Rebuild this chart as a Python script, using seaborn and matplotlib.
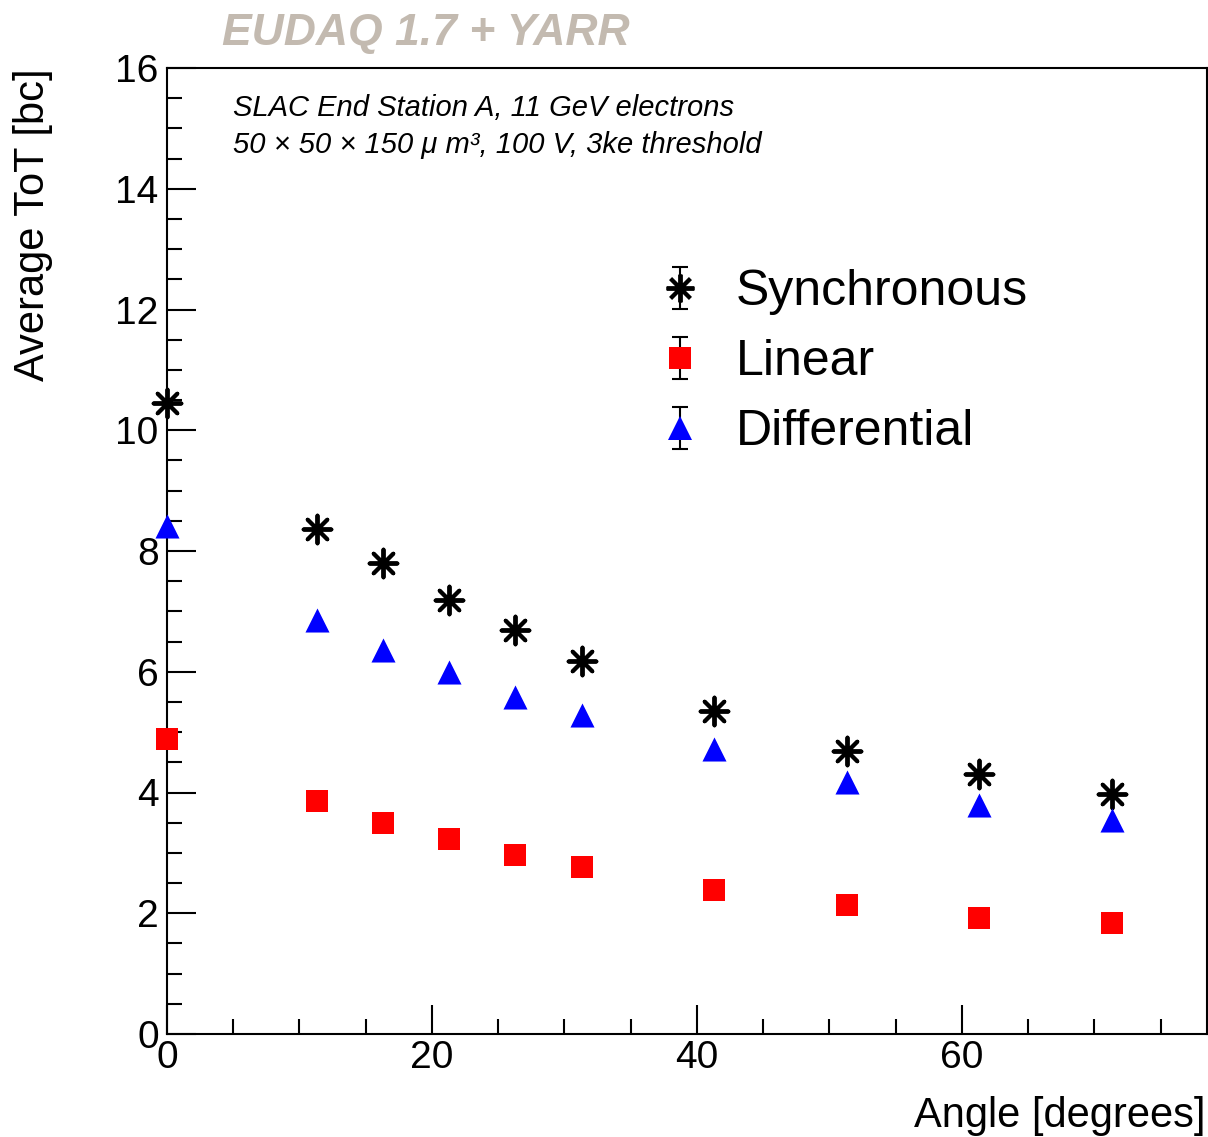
import numpy as np
import pandas as pd
import matplotlib
matplotlib.use("Agg")
import matplotlib.pyplot as plt
import seaborn as sns
from matplotlib.lines import Line2D
from matplotlib.collections import LineCollection
from matplotlib.container import ErrorbarContainer
from matplotlib.legend_handler import HandlerErrorbar
from matplotlib.ticker import MultipleLocator

# values
angle = [0, 11.3, 16.3, 21.3, 26.3, 31.3, 41.3, 51.3, 61.3, 71.3]
tot_sync = [10.45, 8.37, 7.80, 7.19, 6.69, 6.18, 5.35, 4.69, 4.31, 3.98]
tot_linear = [4.89, 3.86, 3.49, 3.23, 2.96, 2.77, 2.39, 2.14, 1.92, 1.84]
tot_diff = [8.42, 6.86, 6.36, 6.00, 5.58, 5.28, 4.72, 4.17, 3.79, 3.54]
series_names = ["Synchronous", "Linear", "Differential"]

df = pd.DataFrame({"angle": angle * 3,
                   "tot": tot_sync + tot_linear + tot_diff,
                   "mode": np.repeat(series_names, len(angle))})

sns.set_theme(style="ticks")
plt.rcParams["font.family"] = ["Liberation Sans", "DejaVu Sans"]
plt.rcParams["text.color"] = "black"
plt.rcParams["axes.labelcolor"] = "black"

W, H = 1208, 1137
fig = plt.figure(figsize=(W / 100, H / 100), dpi=100)
ax = fig.add_axes([167 / W, 103 / H, (1207 - 167) / W, (1034 - 68) / H])

styles = {
    "Synchronous": dict(marker=(8, 2, 0), color="black", s=400, linewidth=2.8),
    "Linear": dict(marker="s", color="red", s=240, linewidth=0),
    "Differential": dict(marker="^", color="blue", s=300, linewidth=0),
}
for name in series_names:
    sns.scatterplot(data=df[df["mode"] == name], x="angle", y="tot", ax=ax,
                    legend=False, clip_on=False, zorder=5, **styles[name])

ax.set_xlim(0, 78.5)
ax.set_ylim(0, 16)
ax.xaxis.set_major_locator(MultipleLocator(20))
ax.xaxis.set_minor_locator(MultipleLocator(5))
ax.yaxis.set_major_locator(MultipleLocator(2))
ax.yaxis.set_minor_locator(MultipleLocator(0.5))
ax.tick_params(which="both", direction="in", width=1.5, colors="black",
               labelsize=28, top=False, right=False)
ax.tick_params(which="major", length=21)
ax.tick_params(which="minor", length=10.5)
ax.tick_params(axis="x", pad=4)
ax.tick_params(axis="y", pad=6)
for sp in ax.spines.values():
    sp.set_visible(True)
    sp.set_linewidth(1.5)
    sp.set_color("black")
ax.set_xlabel("")
ax.set_ylabel("")

fig.text(33 / W, 1 - 68 / H, "Average ToT [bc]", rotation=90, ha="center",
         va="top", fontsize=30)
fig.text(1206 / W, 1 - 1116 / H, "Angle [degrees]", ha="right", va="center",
         fontsize=30)
fig.text(222 / W, 1 - 45 / H, "EUDAQ 1.7 + YARR", ha="left", va="baseline",
         fontsize=32, fontweight="bold", fontstyle="italic", color="#C3BAB0")
fig.text(233 / W, 1 - 116 / H, "SLAC End Station A, 11 GeV electrons",
         ha="left", va="baseline", fontsize=21, fontstyle="italic")
fig.text(233 / W, 1 - 153 / H, "50 × 50 × 150 μ m³, 100 V, 3ke threshold",
         ha="left", va="baseline", fontsize=21, fontstyle="italic")

# legend entries with error bar style handles
handles = []
for name in series_names:
    st = styles[name]
    ms = np.sqrt(st["s"])
    pl = Line2D([], [], marker=st["marker"], color=st["color"], linestyle="none",
                markersize=ms, markeredgewidth=st["linewidth"] if st["linewidth"] else 0)
    cap = Line2D([], [], marker="_", color="black", markersize=11, markeredgewidth=1.5)
    bar = LineCollection([], colors="black", linewidths=1.5)
    handles.append(ErrorbarContainer((pl, [cap], [bar]), has_xerr=False,
                                     has_yerr=True, label=name))
ax.legend(handles=handles, labels=series_names, loc="upper left",
          bbox_to_anchor=(657 / W, 1 - 269 / H), bbox_transform=fig.transFigure,
          frameon=False, fontsize=36, handlelength=0.9, handletextpad=0.68,
          labelspacing=0.48, borderpad=0, borderaxespad=0,
          handler_map={ErrorbarContainer: HandlerErrorbar(xerr_size=0.42)})

fig.savefig("out.png", dpi=100)
